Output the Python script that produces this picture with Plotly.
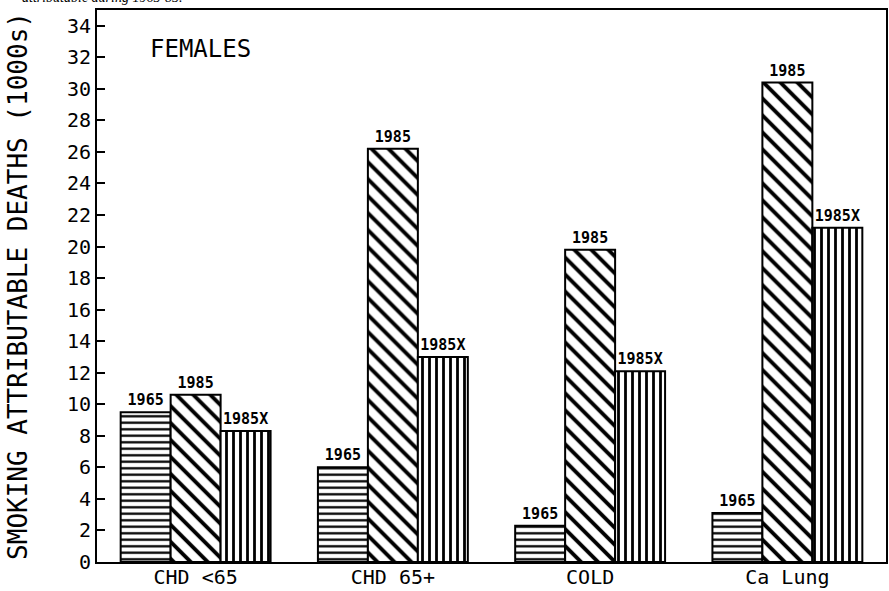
import plotly.graph_objects as go

categories = ["CHD <65", "CHD 65+", "COLD", "Ca Lung"]
series_names = ["1965", "1985", "1985X"]
values_1965 = [9.5, 6.0, 2.3, 3.1]
values_1985 = [10.6, 26.2, 19.8, 30.4]
values_1985x = [8.3, 13.0, 12.1, 21.2]
y_ticks = list(range(0, 36, 2))

MONO = "DejaVu Sans Mono"
patterns = {"1965": ("-", 6.5, 0.35), "1985": ("\\", 12, 0.32), "1985X": ("|", 7, 0.4)}
series_values = {"1965": values_1965, "1985": values_1985, "1985X": values_1985x}

fig = go.Figure()
for name in series_names:
    shape, size, solidity = patterns[name]
    fig.add_trace(go.Bar(
        x=categories,
        y=series_values[name],
        name=name,
        text=["<b>" + name + "</b>"] * len(categories),
        textposition="outside",
        textfont=dict(family=MONO, size=15, color="black"),
        cliponaxis=False,
        marker=dict(
            color="white",
            line=dict(color="black", width=2),
            pattern=dict(shape=shape, size=size, solidity=solidity,
                         fgcolor="black", bgcolor="white", fgopacity=1),
        ),
    ))

fig.update_layout(
    width=889, height=591,
    margin=dict(l=97, r=3, t=10, b=29),
    barmode="group",
    bargap=0.24,
    bargroupgap=0,
    showlegend=False,
    plot_bgcolor="white",
    paper_bgcolor="white",
    font=dict(family=MONO, color="black"),
)

fig.update_yaxes(
    range=[0, 35],
    tickvals=y_ticks,
    ticks="inside", ticklen=8, tickwidth=2, tickcolor="black",
    showline=True, linewidth=2, linecolor="black", mirror=True,
    showgrid=False, zeroline=False,
    tickfont=dict(family=MONO, size=20, color="black"),
    automargin=False,
    title=dict(text="SMOKING ATTRIBUTABLE DEATHS (1000s)",
               font=dict(family=MONO, size=26, color="black"),
               standoff=32),
)
fig.update_xaxes(
    showline=True, linewidth=2, linecolor="black", mirror=True,
    ticks="", showgrid=False, automargin=False,
    ticklabelstandoff=-4,
    tickfont=dict(family=MONO, size=20, color="black"),
)

fig.add_annotation(
    text="FEMALES", xref="paper", yref="paper",
    x=0.065, y=0.93, xanchor="left", yanchor="middle",
    showarrow=False, font=dict(family=MONO, size=24, color="black"),
)
fig.add_annotation(
    text="<i>attributable during 1965-85.</i>", xref="paper", yref="paper",
    x=0.0, y=1.0, xanchor="right", yanchor="bottom", yshift=3, xshift=88,
    showarrow=False, font=dict(family="Liberation Serif", size=14, color="black"),
)

fig.write_html("out.html", config={"displayModeBar": False},
               post_script="document.body.style.margin='0';document.body.style.overflow='hidden';")
